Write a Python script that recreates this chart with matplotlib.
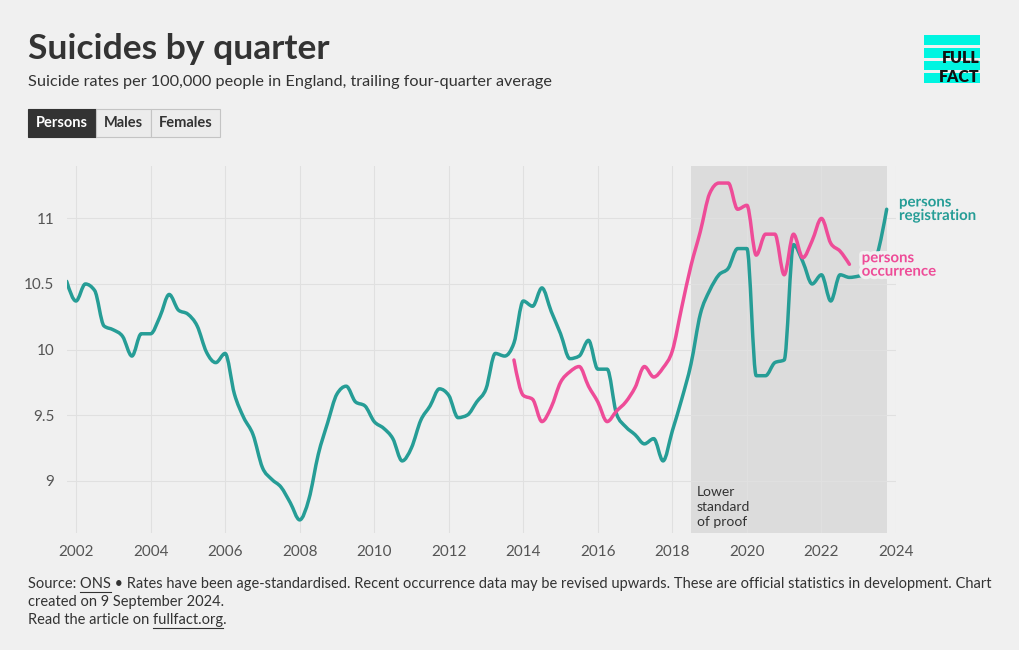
import numpy as np
import matplotlib
matplotlib.use("Agg")
import matplotlib.pyplot as plt
import matplotlib.patheffects as pe
from matplotlib.path import Path
from matplotlib.patches import PathPatch, Rectangle
from matplotlib.lines import Line2D

plt.rcParams['font.family'] = ['Lato', 'DejaVu Sans']

BG = '#f0f0f0'
TEAL = '#269d96'
PINK = '#ee4c98'
INK = '#333333'

# quarterly trailing four-quarter average, persons, by date of registration (from 2001 Q4)
reg_start = 2001.75
reg_values = [10.52, 10.37, 10.50, 10.45, 10.18, 10.15, 10.10, 9.95, 10.12, 10.12,
              10.25, 10.42, 10.30, 10.27, 10.18, 9.98, 9.90, 9.97, 9.66, 9.48,
              9.35, 9.10, 9.01, 8.95, 8.83, 8.70, 8.86, 9.20, 9.44, 9.66,
              9.72, 9.60, 9.57, 9.45, 9.40, 9.32, 9.15, 9.25, 9.46, 9.57,
              9.70, 9.65, 9.48, 9.50, 9.60, 9.70, 9.97, 9.95, 10.05, 10.37,
              10.33, 10.47, 10.29, 10.12, 9.93, 9.95, 10.07, 9.85, 9.85, 9.51,
              9.41, 9.35, 9.28, 9.32, 9.15, 9.38, 9.62, 9.89, 10.27, 10.45,
              10.57, 10.62, 10.77, 10.77, 9.80, 9.80, 9.90, 9.92, 10.80, 10.67,
              10.50, 10.57, 10.37, 10.57, 10.55, 10.56, 10.58, 10.73, 11.07]

# persons, by date of occurrence (from 2013 Q4)
occ_start = 2013.75
occ_values = [9.92, 9.65, 9.62, 9.45, 9.56, 9.75, 9.83, 9.87, 9.72, 9.60,
              9.45, 9.53, 9.60, 9.71, 9.87, 9.79, 9.86, 9.99, 10.32, 10.64,
              10.90, 11.19, 11.27, 11.27, 11.07, 11.10, 10.72, 10.88, 10.88, 10.57,
              10.88, 10.70, 10.83, 11.00, 10.81, 10.75, 10.65]

shade_span = (2018.5, 2023.75)
x_ticks = [2002, 2004, 2006, 2008, 2010, 2012, 2014, 2016, 2018, 2020, 2022, 2024]
y_ticks = [9, 9.5, 10, 10.5, 11]
y_tick_labels = ['9', '9.5', '10', '10.5', '11']


def monotone_path(x, y):
    # monotone-x cubic curve, as d3's curveMonotoneX draws it
    x = np.asarray(x, float)
    y = np.asarray(y, float)
    n = len(x)
    h = np.diff(x)
    s = np.diff(y) / h
    t = np.zeros(n)
    sg = lambda v: -1.0 if v < 0 else 1.0
    for i in range(1, n - 1):
        h0, h1, s0, s1 = h[i - 1], h[i], s[i - 1], s[i]
        p = (s0 * h1 + s1 * h0) / (h0 + h1)
        t[i] = (sg(s0) + sg(s1)) * min(abs(s0), abs(s1), 0.5 * abs(p))
    t[0] = (3 * s[0] - t[1]) / 2
    t[-1] = (3 * s[-1] - t[-2]) / 2
    verts = [(x[0], y[0])]
    codes = [Path.MOVETO]
    for i in range(n - 1):
        dx = h[i] / 3
        verts += [(x[i] + dx, y[i] + dx * t[i]),
                  (x[i + 1] - dx, y[i + 1] - dx * t[i + 1]),
                  (x[i + 1], y[i + 1])]
        codes += [Path.CURVE4] * 3
    return Path(verts, codes)


fig = plt.figure(figsize=(10.2, 6.5), dpi=100, facecolor=BG)
ax = fig.add_axes([66.7 / 1020, 1 - 533 / 650, (896 - 66.7) / 1020, 367 / 650])
ax.set_facecolor(BG)
ax.set_xlim(2001.75, 2024.0)
ax.set_ylim(8.6, 11.4)
for sp in ax.spines.values():
    sp.set_visible(False)
ax.set_xticks(x_ticks)
ax.set_xticklabels([str(v) for v in x_ticks])
ax.set_yticks(y_ticks)
ax.set_yticklabels(y_tick_labels)
ax.tick_params(length=0, labelsize=11, labelcolor='#555555', pad=9)
ax.grid(True, color='#e0e0e0', lw=0.8)
ax.set_axisbelow(True)

ax.axvspan(*shade_span, color='#dcdcdc', zorder=0.5, lw=0)
ax.text(shade_span[0] + 0.16, 8.64, 'Lower\nstandard\nof proof', fontsize=10,
        color=INK, va='bottom', ha='left', linespacing=1.3)

reg_x = reg_start + 0.25 * np.arange(len(reg_values))
occ_x = occ_start + 0.25 * np.arange(len(occ_values))
for xs, ys, col in [(reg_x, reg_values, TEAL), (occ_x, occ_values, PINK)]:
    ax.add_patch(PathPatch(monotone_path(xs, ys), fill=False, edgecolor=col, lw=2.5,
                           capstyle='round', joinstyle='round', zorder=3))

halo = [pe.withStroke(linewidth=5, foreground=BG)]
ax.text(2024.08, 11.07, 'persons\nregistration', color=TEAL, fontsize=10.8,
        fontweight='bold', va='center', ha='left', linespacing=0.95,
        clip_on=False, path_effects=halo, zorder=5)
ax.text(2023.08, 10.645, 'persons\noccurrence', color=PINK, fontsize=10.8,
        fontweight='bold', va='center', ha='left', linespacing=0.95,
        clip_on=False, path_effects=halo, zorder=5)

# header
fig.text(28 / 1020, 1 - 49 / 650, 'Suicides by quarter', fontsize=25.5, fontweight='bold',
         color=INK, va='center', ha='left')
fig.text(28 / 1020, 1 - 82 / 650, 'Suicide rates per 100,000 people in England, trailing four-quarter average',
         fontsize=11.7, color=INK, va='center', ha='left')

# toggle buttons
buttons = [('Persons', 28, 96, True), ('Males', 96, 151, False), ('Females', 151, 220, False)]
for label, x0, x1, active in buttons:
    fig.patches.append(Rectangle((x0 / 1020, 1 - 137 / 650), (x1 - x0) / 1020, 28 / 650,
                                 transform=fig.transFigure,
                                 facecolor=INK if active else '#ececec',
                                 edgecolor=INK if active else '#c4c4c4', lw=0.8))
    fig.text((x0 + x1) / 2 / 1020, 1 - 123 / 650, label, fontsize=10.5, fontweight='bold',
             color='white' if active else INK, ha='center', va='center')

# logo
for y0, y1 in [(35, 45), (48, 58), (61, 70), (73, 83)]:
    fig.patches.append(Rectangle((924 / 1020, 1 - y1 / 650), 56 / 1020, (y1 - y0) / 650,
                                 transform=fig.transFigure, facecolor='#00f5e1', lw=0))
fig.text(980 / 1020, 1 - 58 / 650, 'FULL', fontsize=11.5, fontweight='heavy', color='#111111',
         ha='right', va='center')
fig.text(980 / 1020, 1 - 77 / 650, 'FACT', fontsize=11.5, fontweight='heavy', color='#111111',
         ha='right', va='center')

# footer
FOOT_SIZE = 10.55
foot = [('Source: ONS \u2022 Rates have been age-standardised. Recent occurrence data may be revised '
         'upwards. These are official statistics in development. Chart', 584, 'Source: ', 'ONS'),
        ('created on 9 September 2024.', 602, None, None),
        ('Read the article on fullfact.org.', 620, 'Read the article on ', 'fullfact.org')]
renderer = fig.canvas.get_renderer()


def text_width(s):
    t = fig.text(0, 0, s, fontsize=FOOT_SIZE)
    w = t.get_window_extent(renderer).width
    t.remove()
    return w


for line, ypix, prefix, link in foot:
    fig.text(28 / 1020, 1 - ypix / 650, line, fontsize=FOOT_SIZE, color=INK, va='center', ha='left')
    if link:
        end = text_width(prefix + link)
        start = end - text_width(link)
        fig.lines.append(Line2D([(28 + start) / 1020, (28 + end) / 1020],
                                [1 - (ypix + 8) / 650] * 2, transform=fig.transFigure,
                                color=INK, lw=0.8))

fig.savefig('out.png', dpi=100, facecolor=BG)
